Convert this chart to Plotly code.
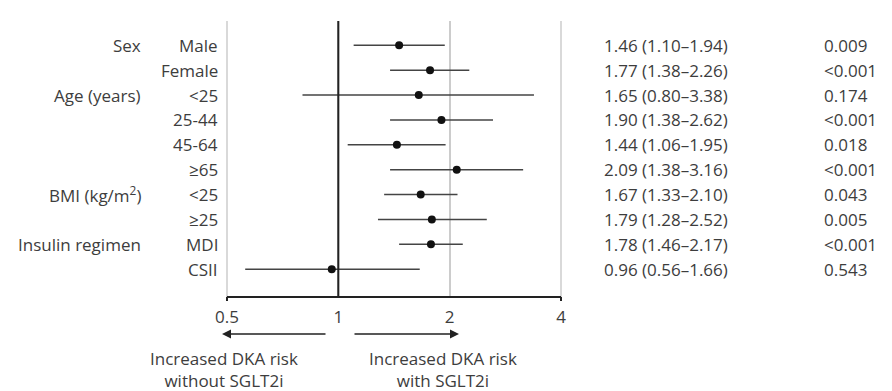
import plotly.graph_objects as go
import math

sub_labels = ["Male", "Female", "&lt;25", "25-44", "45-64", "≥65", "&lt;25", "≥25", "MDI", "CSII"]
group_labels = ["Sex", "Age (years)", "BMI (kg/m<sup>2</sup>)", "Insulin regimen"]
group_rows = [0, 2, 6, 8]
hr = [1.46, 1.77, 1.65, 1.90, 1.44, 2.09, 1.67, 1.79, 1.78, 0.96]
ci_lo = [1.10, 1.38, 0.80, 1.38, 1.06, 1.38, 1.33, 1.28, 1.46, 0.56]
ci_hi = [1.94, 2.26, 3.38, 2.62, 1.95, 3.16, 2.10, 2.52, 2.17, 1.66]
p_values = ["0.009", "&lt;0.001", "0.174", "&lt;0.001", "0.018", "&lt;0.001", "0.043", "0.005", "&lt;0.001", "0.543"]
x_ticks = [0.5, 1, 2, 4]
x_ticktext = ["0.5", "1", "2", "4"]

FONT = "Open Sans"
TXT = "#3d3d3d"
FS = 17

rows = list(range(len(hr)))
OFF = 8  # page body margin
W, H = 892, 391
# target plot area in page pixels: x 227..561, y 21..297
L = 227 - OFF
T = 21 - OFF
R = W - (561 - OFF)
B = H - (297 - OFF)
pw, ph = W - L - R, H - T - B

def px_x(px):
    return (px - OFF - L) / pw

def px_y(py):
    return (H - B - (py - OFF)) / ph

fig = go.Figure()
fig.add_trace(go.Scatter(
    x=hr, y=rows, mode="markers",
    marker=dict(color="#111111", size=8),
    error_x=dict(type="data", symmetric=False,
                 array=[h - m for h, m in zip(ci_hi, hr)],
                 arrayminus=[m - l for m, l in zip(hr, ci_lo)],
                 color="#444444", thickness=1.5, width=0),
    showlegend=False, hoverinfo="skip"))

lmin, lmax = math.log10(x_ticks[0]), math.log10(x_ticks[-1])
ref_frac = (math.log10(1) - lmin) / (lmax - lmin)

shapes = [
    dict(type="line", xref="paper", yref="paper", x0=0, x1=0, y0=0, y1=1,
         line=dict(color="#cccccc", width=1.5), layer="below"),
    dict(type="line", xref="paper", yref="paper", x0=1, x1=1, y0=0, y1=1,
         line=dict(color="#cccccc", width=1.5), layer="below"),
    dict(type="line", xref="paper", yref="paper", x0=ref_frac, x1=ref_frac, y0=0, y1=1,
         line=dict(color="#222222", width=2)),
    dict(type="line", xref="paper", yref="paper", x0=0, x1=1, y0=0, y1=0,
         line=dict(color="#222222", width=2)),
    dict(type="line", xref="paper", yref="paper", x0=0, x1=0, y0=0, y1=-4 / ph,
         line=dict(color="#222222", width=2)),
    dict(type="line", xref="paper", yref="paper", x0=1, x1=1, y0=0, y1=-4 / ph,
         line=dict(color="#222222", width=2)),
]

def tfont():
    return dict(family=FONT, size=FS, color=TXT)

ann = []
for r, s in zip(rows, sub_labels):
    ann.append(dict(x=px_x(220), y=r, xref="paper", yref="y", text=s, showarrow=False,
                    xanchor="right", yanchor="middle", font=tfont()))
for r, g in zip(group_rows, group_labels):
    ann.append(dict(x=px_x(143), y=r, xref="paper", yref="y", text=g, showarrow=False,
                    xanchor="right", yanchor="middle", font=tfont()))
for r, h, l, u, p in zip(rows, hr, ci_lo, ci_hi, p_values):
    ann.append(dict(x=px_x(602), y=r, xref="paper", yref="y", text=f"{h:.2f} ({l:.2f}–{u:.2f})",
                    showarrow=False, xanchor="left", yanchor="middle", font=tfont()))
    ann.append(dict(x=px_x(822), y=r, xref="paper", yref="y", text=p,
                    showarrow=False, xanchor="left", yanchor="middle", font=tfont()))
ann.append(dict(x=px_x(602), y=-1, xref="paper", yref="y", text="Hazard ratio (95%CI)",
                showarrow=False, xanchor="left", yanchor="middle", font=tfont()))
ann.append(dict(x=px_x(822), y=-1, xref="paper", yref="y", text="P values",
                showarrow=False, xanchor="left", yanchor="middle", font=tfont()))

# direction arrows
ann.append(dict(x=px_x(222), y=px_y(334), xref="paper", yref="paper", ax=105, ay=0, text="",
                showarrow=True, arrowhead=2, arrowsize=1.2, arrowwidth=1.5, arrowcolor="#222222"))
ann.append(dict(x=px_x(459), y=px_y(334), xref="paper", yref="paper", ax=-106, ay=0, text="",
                showarrow=True, arrowhead=2, arrowsize=1.2, arrowwidth=1.5, arrowcolor="#222222"))
ann.append(dict(x=px_x(224), y=px_y(369), xref="paper", yref="paper",
                text="Increased DKA risk<br>without SGLT2i", showarrow=False,
                xanchor="center", yanchor="middle", align="center", font=tfont()))
ann.append(dict(x=px_x(443), y=px_y(369), xref="paper", yref="paper",
                text="Increased DKA risk<br>with SGLT2i", showarrow=False,
                xanchor="center", yanchor="middle", align="center", font=tfont()))

fig.update_layout(
    width=W, height=H,
    margin=dict(l=L, r=R, t=T, b=B, pad=0),
    paper_bgcolor="white", plot_bgcolor="white",
    font=tfont(),
    xaxis=dict(type="log", range=[lmin, lmax], tickvals=x_ticks, ticktext=x_ticktext,
               showgrid=True, gridcolor="#cccccc", gridwidth=1.5, zeroline=False,
               showline=False, ticks="", ticklabelstandoff=8, tickfont=tfont()),
    yaxis=dict(range=[10.12, -0.98], showgrid=False, zeroline=False, showticklabels=False,
               ticks="", showline=False),
    shapes=shapes, annotations=ann,
)
fig.write_html("out.html")
